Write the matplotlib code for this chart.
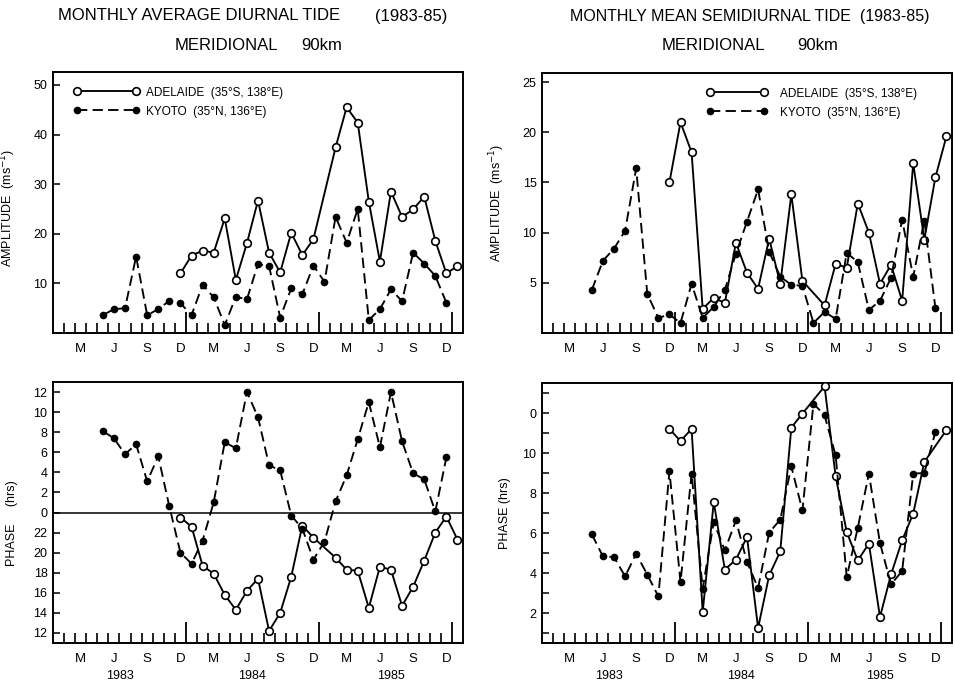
import numpy as np
import matplotlib
matplotlib.use("Agg")
import matplotlib.pyplot as plt
from matplotlib.transforms import blended_transform_factory

plt.rcParams['font.family'] = ['Liberation Sans', 'DejaVu Sans']

# x axis: months counted from Jan 1983 (0), points at month centres
month_letters = ["M", "J", "S", "D"] * 3
month_letter_pos = [2.5, 5.5, 8.5, 11.5, 14.5, 17.5, 20.5, 23.5, 26.5, 29.5, 32.5, 35.5]
year_labels = ["1983", "1984", "1985"]
year_pos = [6.0, 18.0, 30.5]

kyoto_months = list(range(4, 36))                       # May 1983 .. Dec 1985
adelaide_months = [m for m in range(11, 37) if m != 24]  # Dec 1983 .. Jan 1986, no Jan 1985
adelaide_months_sdp = [m for m in adelaide_months if m != 35]

# diurnal amplitude (m/s)
kyoto_d_amp = [3.6, 4.8, 5.0, 15.4, 3.6, 4.8, 6.5, 6.0, 3.6, 9.7, 7.2, 1.6,
               7.3, 6.8, 13.9, 13.5, 3.1, 9.0, 7.8, 13.6, 10.3, 23.4, 18.2, 25.0,
               2.6, 4.8, 8.8, 6.4, 16.2, 14.0, 11.5, 6.1]
adelaide_d_amp = [12.0, 15.6, 16.6, 16.2, 23.1, 10.7, 18.1, 26.7, 16.2, 12.2, 20.2, 15.7, 18.9,
                  37.4, 45.5, 42.4, 26.5, 14.4, 28.5, 23.4, 24.9, 27.5, 18.6, 12.0, 13.5]

# semidiurnal amplitude (m/s)
kyoto_sd_amp = [4.3, 7.2, 8.4, 10.2, 16.4, 3.9, 1.5, 1.85, 1.0, 4.9, 1.5, 2.6,
                4.3, 7.9, 11.1, 14.3, 8.1, 5.6, 4.8, 4.7, 1.0, 2.1, 1.4, 8.0,
                7.05, 2.3, 3.2, 5.5, 11.3, 5.6, 11.2, 2.5]
adelaide_sd_amp = [15.0, 21.0, 18.0, 2.4, 3.5, 3.0, 9.0, 6.0, 4.4, 9.4, 4.9, 13.8, 5.2,
                   2.75, 6.9, 6.5, 12.9, 10.0, 4.9, 6.8, 3.2, 16.9, 9.3, 15.5, 19.6]

# diurnal phase (hrs, 0-24)
kyoto_d_phase = [8.1, 7.4, 5.8, 6.8, 3.1, 5.6, 0.6, 20.0, 18.9, 21.2, 1.0, 7.0,
                 6.4, 12.0, 9.5, 4.7, 4.2, 23.7, 22.4, 19.3, 21.1, 1.1, 3.7, 7.3,
                 11.0, 6.5, 12.0, 7.1, 3.9, 3.3, 0.1, 5.5]
adelaide_d_phase = [23.5, 22.6, 18.7, 17.9, 15.8, 14.3, 16.2, 17.4, 12.2, 14.0, 17.6, 22.7, 21.5,
                    19.5, 18.3, 18.2, 14.5, 18.6, 18.3, 14.7, 16.6, 19.2, 22.0, 23.6, 21.3]

# semidiurnal phase (hrs, values above 12 wrap to the top of the 0-12 range)
kyoto_sd_phase = [5.93, 4.83, 4.8, 3.83, 4.97, 3.92, 2.83, 9.08, 3.55, 8.97, 3.22, 6.55,
                  5.13, 6.63, 4.55, 3.25, 6.02, 6.67, 9.33, 7.13, 12.47, 11.88, 9.88, 3.8,
                  6.27, 8.97, 5.5, 3.43, 4.1, 8.97, 9.0, 11.05]
adelaide_sd_phase = [11.2, 10.6, 11.2, 2.05, 7.55, 4.17, 4.67, 5.8, 1.25, 3.88, 5.08, 11.27, 11.97,
                     13.33, 8.83, 6.05, 4.63, 5.47, 1.8, 3.93, 5.63, 6.97, 9.55, 11.15]


def centres(months):
    return [m + 0.5 for m in months]


def wrap_diurnal(hours):
    # 12..24 h are drawn below the zero line
    return [h if h <= 12.1 else h - 24 for h in hours]


def plot_pair(ax, x_a, y_a, x_k, y_k):
    la, = ax.plot(x_a, y_a, color='black', lw=1.35, marker='o', ms=5.5,
                  mfc='white', mec='black', mew=1.2,
                  label="ADELAIDE  (35°S, 138°E)", zorder=3)
    lk, = ax.plot(x_k, y_k, color='black', lw=1.35, marker='o', ms=4.5,
                  mfc='black', mec='black', dashes=[5.5, 2.8],
                  label="KYOTO  (35°N, 136°E)", zorder=4)
    return la, lk


def style(ax, years=False):
    ax.set_xlim(0, 37)
    for s in ax.spines.values():
        s.set_linewidth(1.4)
    ax.set_xticks([12, 24, 36])
    ax.set_xticks([m for m in range(1, 37) if m % 12 != 0], minor=True)
    ax.tick_params(axis='x', which='major', direction='in', length=15, width=1.3,
                   labelbottom=False)
    ax.tick_params(axis='x', which='minor', direction='in', length=7, width=1.2)
    ax.tick_params(axis='y', which='both', direction='in', length=5, width=1.1,
                   labelsize=9, pad=4)
    trans = blended_transform_factory(ax.transData, ax.transAxes)
    for pos, lab in zip(month_letter_pos, month_letters):
        ax.text(pos, -0.04, lab, transform=trans, ha='center', va='top', fontsize=9.5)
    if years:
        for pos, lab in zip(year_pos, year_labels):
            ax.text(pos, -0.105, lab, transform=trans, ha='center', va='top', fontsize=9)


fig = plt.figure(figsize=(9.55, 6.88), dpi=100)
W, H = 955.0, 688.0
ax_tl = fig.add_axes([53 / W, 1 - 333 / H, 410 / W, 261 / H])
ax_tr = fig.add_axes([542 / W, 1 - 333 / H, 410 / W, 260 / H])
ax_bl = fig.add_axes([53 / W, 1 - 643 / H, 410 / W, 261 / H])
ax_br = fig.add_axes([542 / W, 1 - 643 / H, 410 / W, 260 / H])

# top left: diurnal amplitude
la, lk = plot_pair(ax_tl, centres(adelaide_months), adelaide_d_amp,
                   centres(kyoto_months), kyoto_d_amp)
ax_tl.set_ylim(0, 52.6)
ax_tl.set_yticks([10, 20, 30, 40, 50])
ax_tl.set_ylabel("AMPLITUDE  (ms$^{-1}$)", fontsize=9)
ax_tl.yaxis.set_label_coords(-0.085, 0.48)
style(ax_tl)
ax_tl.legend(handles=[la, lk], loc='upper left', bbox_to_anchor=(0.025, 0.985),
             frameon=False, numpoints=2, handlelength=5.6, handletextpad=0.5,
             fontsize=8.5, labelspacing=0.6)

# top right: semidiurnal amplitude
la, lk = plot_pair(ax_tr, centres(adelaide_months), adelaide_sd_amp,
                   centres(kyoto_months), kyoto_sd_amp)
ax_tr.set_ylim(0, 25.9)
ax_tr.set_yticks([5, 10, 15, 20, 25])
ax_tr.set_ylabel("AMPLITUDE  (ms$^{-1}$)", fontsize=9)
ax_tr.yaxis.set_label_coords(-0.085, 0.5)
style(ax_tr)
ax_tr.legend(handles=[la, lk], loc='upper left', bbox_to_anchor=(0.375, 0.985),
             frameon=False, numpoints=2, handlelength=5.2, handletextpad=1.0,
             fontsize=8.5, labelspacing=0.6)

# bottom left: diurnal phase
plot_pair(ax_bl, centres(adelaide_months), wrap_diurnal(adelaide_d_phase),
          centres(kyoto_months), wrap_diurnal(kyoto_d_phase))
ax_bl.axhline(0, color='black', lw=1.1, zorder=1)
ax_bl.set_ylim(-13, 13)
bl_ticks = list(range(-12, 13, 2))
ax_bl.set_yticks(bl_ticks)
ax_bl.set_yticklabels([str(t) if t >= 0 else str(t + 24) for t in bl_ticks])
ax_bl.set_ylabel("PHASE     (hrs)", fontsize=9)
ax_bl.yaxis.set_label_coords(-0.085, 0.46)
style(ax_bl, years=True)

# bottom right: semidiurnal phase
plot_pair(ax_br, centres(adelaide_months_sdp), adelaide_sd_phase,
          centres(kyoto_months), kyoto_sd_phase)
ax_br.set_ylim(0.5, 13.5)
ax_br.set_yticks(range(1, 14))
ax_br.set_yticklabels(["0" if t == 12 else (str(t) if t % 2 == 0 else "") for t in range(1, 14)])
ax_br.set_ylabel("PHASE (hrs)", fontsize=9)
ax_br.yaxis.set_label_coords(-0.075, 0.5)
style(ax_br, years=True)

# titles
tkw = dict(fontsize=12, va='center')
fig.text(58 / W, 1 - 16 / H, "MONTHLY AVERAGE DIURNAL TIDE", ha='left', **tkw)
fig.text(447 / W, 1 - 16 / H, "(1983-85)", ha='right', **tkw)
fig.text(175 / W, 1 - 46 / H, "MERIDIONAL", ha='left', **tkw)
fig.text(342 / W, 1 - 46 / H, "90km", ha='right', **tkw)
fig.text(750 / W, 1 - 16 / H, "MONTHLY MEAN SEMIDIURNAL TIDE  (1983-85)", ha='center',
         fontsize=11.5, va='center')
fig.text(662 / W, 1 - 46 / H, "MERIDIONAL", ha='left', **tkw)
fig.text(838 / W, 1 - 46 / H, "90km", ha='right', **tkw)

fig.savefig("out.png", dpi=100)
